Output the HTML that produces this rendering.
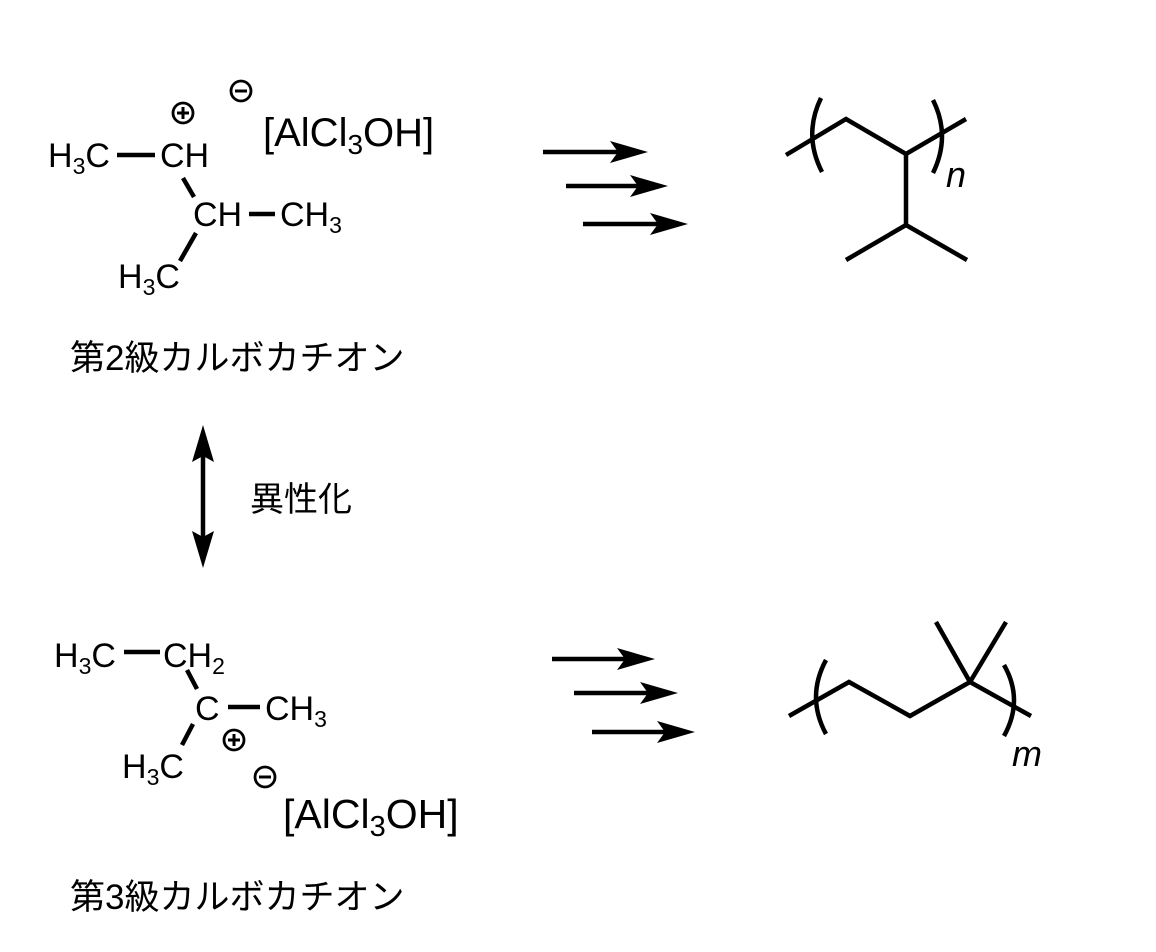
<!DOCTYPE html>
<html><head><meta charset="utf-8"><style>
body{margin:0;background:#fff;}
svg{display:block}
text{font-family:"Liberation Sans","Noto Sans CJK JP",sans-serif;fill:#000}
</style></head><body>
<svg width="1156" height="952" viewBox="0 0 1156 952" xmlns="http://www.w3.org/2000/svg">
<g stroke="#000" stroke-width="4.5" stroke-linecap="butt" fill="none">
<line x1="117" y1="155" x2="155" y2="155"/>
<line x1="183" y1="178" x2="194" y2="197"/>
<line x1="249" y1="214" x2="275" y2="214"/>
<line x1="196" y1="233" x2="180" y2="261"/>
<line x1="124" y1="652" x2="160" y2="652"/>
<line x1="187" y1="670" x2="197" y2="689"/>
<line x1="228" y1="707" x2="260" y2="707"/>
<line x1="193" y1="724" x2="182" y2="745"/>
</g>
<g stroke="#000" stroke-width="2.8" fill="none">
<circle cx="183" cy="113" r="10"/><circle cx="241" cy="91" r="10"/>
<circle cx="234" cy="740" r="10"/><circle cx="265" cy="777" r="10"/>
</g>
<g stroke="#000" stroke-width="3">
<line x1="177" y1="113" x2="189" y2="113"/><line x1="183" y1="107" x2="183" y2="119"/>
<line x1="235" y1="91" x2="247" y2="91"/>
<line x1="228" y1="740" x2="240" y2="740"/><line x1="234" y1="734" x2="234" y2="746"/>
<line x1="259" y1="777" x2="271" y2="777"/>
</g>
<g font-size="34">
<text x="48" y="167">H<tspan font-size="23" dy="7">3</tspan><tspan dy="-7">C</tspan></text>
<text x="160" y="167">CH</text>
<text x="193" y="226">CH</text>
<text x="280" y="226">CH<tspan font-size="23" dy="7">3</tspan></text>
<text x="118" y="288">H<tspan font-size="23" dy="7">3</tspan><tspan dy="-7">C</tspan></text>
<text x="54" y="667">H<tspan font-size="23" dy="7">3</tspan><tspan dy="-7">C</tspan></text>
<text x="163" y="667">CH<tspan font-size="23" dy="7">2</tspan></text>
<text x="195" y="720">C</text>
<text x="265" y="720">CH<tspan font-size="23" dy="7">3</tspan></text>
<text x="122" y="778">H<tspan font-size="23" dy="7">3</tspan><tspan dy="-7">C</tspan></text>
</g>
<text x="263" y="146" font-size="40">[AlCl<tspan font-size="28" dy="8">3</tspan><tspan dy="-8">OH]</tspan></text>
<text x="283" y="828" font-size="41">[AlCl<tspan font-size="29" dy="8">3</tspan><tspan dy="-8">OH]</tspan></text>
<text x="70" y="370" font-size="35">第2級カルボカチオン</text>
<text x="70" y="909" font-size="35">第3級カルボカチオン</text>
<text x="250" y="511" font-size="34">異性化</text>
<line x1="203" y1="455" x2="203" y2="540" stroke="#000" stroke-width="4.5"/>
<polygon points="203,425 192,462 203,456 214,462" fill="#000"/>
<polygon points="203,568 192,531 203,537 214,531" fill="#000"/>
<g stroke="#000" stroke-width="4.5">
<line x1="543" y1="152" x2="620" y2="152"/>
<line x1="566" y1="186" x2="640" y2="186"/>
<line x1="583" y1="224" x2="660" y2="224"/>
<line x1="552" y1="659" x2="627" y2="659"/>
<line x1="574" y1="693" x2="650" y2="693"/>
<line x1="592" y1="732" x2="667" y2="732"/>
</g>
<g fill="#000">
<polygon points="648,152 610,141 618,152 610,163"/>
<polygon points="668,186 630,175 638,186 630,197"/>
<polygon points="688,224 650,213 658,224 650,235"/>
<polygon points="655,659 617,648 625,659 617,670"/>
<polygon points="678,693 640,682 648,693 640,704"/>
<polygon points="695,732 657,721 665,732 657,743"/>
</g>
<g stroke="#000" stroke-width="4.5" fill="none">
<polyline points="786,155 846,119 906,154 966,119"/>
<line x1="906" y1="154" x2="906" y2="225"/>
<polyline points="846,260 906,225 967,260"/>
<path d="M821,98 Q803,135 822,172"/>
<path d="M933,100 Q951,136 933,173"/>
<polyline points="789,716 849,682 910,716 970,682 1031,716"/>
<line x1="970" y1="682" x2="936" y2="622"/>
<line x1="970" y1="682" x2="1006" y2="622"/>
<path d="M826,660 Q806,697 826,734"/>
<path d="M1004,665 Q1024,700 1004,736"/>
</g>
<text x="946" y="187" font-size="36" font-style="italic">n</text>
<text x="1012" y="766" font-size="36" font-style="italic">m</text>
</svg>
</body></html>
